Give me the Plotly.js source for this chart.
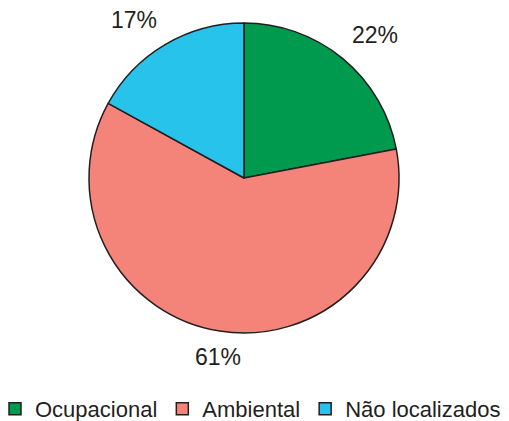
<!DOCTYPE html>
<html><head><meta charset="utf-8">
<script src="https://cdn.plot.ly/plotly-3.0.1.min.js"></script>
<style>html,body{margin:0;padding:0;background:#fff;overflow:hidden}</style>
</head><body>
<div id="chart" style="width:509px;height:421px"></div>
<script>
const categories = ["Ocupacional", "Ambiental", "Não localizados"];
const values = [22, 61, 17];
const labels = ["22%", "61%", "17%"];
const colors = ["#009A4E", "#F4847A", "#27C3EA"];

const W = 509, H = 421;
const dx = [89/W, 399/W];
const dy = [(H-333)/H, (H-23)/H];
const cx = (dx[0]+dx[1])/2, cy = (dy[0]+dy[1])/2;
const R = (dx[1]-dx[0])*W/2;
const total = values.reduce((a,b)=>a+b,0);
let cum = 0;
const annotations = values.map((v,i)=>{
  const mid = (cum + v/2)/total*2*Math.PI; cum += v;
  const s = Math.sin(mid), c = Math.cos(mid);
  const r = R + 11;
  return {
    x: cx + s*r/W, y: cy + c*r/H, xref:'paper', yref:'paper',
    text: labels[i], showarrow:false,
    xanchor: s>0.3?'left':(s<-0.3?'right':'center'),
    yanchor: c>0?'bottom':'top',
    font:{family:'Liberation Sans, Arial, sans-serif', size:23, color:'#231F20'}
  };
});

Plotly.newPlot('chart', [{
  type:'pie', labels:categories, values:values, sort:false,
  direction:'clockwise', rotation:0, textinfo:'none', hoverinfo:'none',
  marker:{colors:colors, line:{color:'#231F20', width:1.5}},
  domain:{x:dx, y:dy}
}], {
  width:W, height:H, margin:{l:0,r:0,t:0,b:0,autoexpand:false},
  paper_bgcolor:'#fff',
  showlegend:true,
  legend:{orientation:'h', x:(W/2-4)/W, xanchor:'center', y:12/H, yanchor:'middle',
    font:{family:'Liberation Sans, Arial, sans-serif', size:22, color:'#231F20'},
    itemwidth:30, tracegroupgap:0},
  annotations:annotations
}, {displayModeBar:false, staticPlot:true});
</script>
</body></html>
